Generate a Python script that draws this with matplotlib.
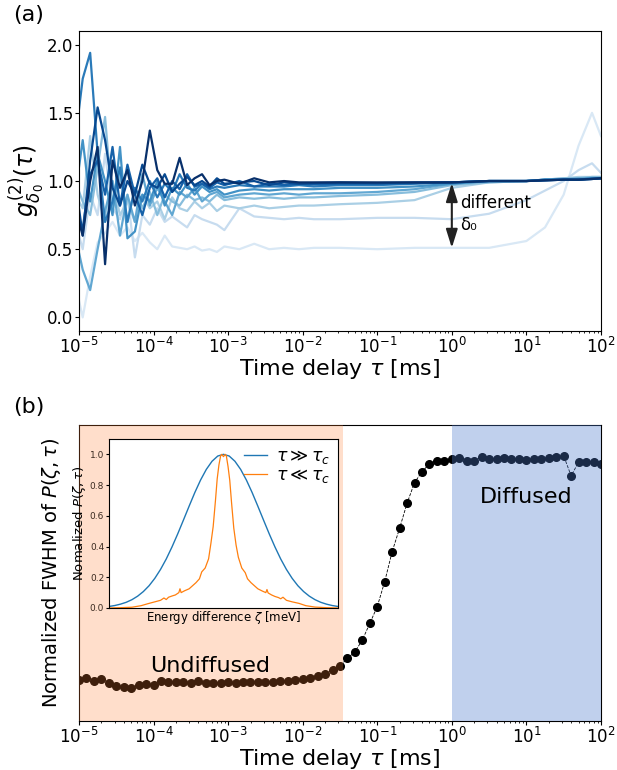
import numpy as np
import matplotlib.pyplot as plt
from matplotlib.ticker import NullFormatter

# ---- panel (a): g2 curves for different delta_0 (light -> dark) ----
log_tau_a = [-5.05, -4.95, -4.85, -4.75, -4.65, -4.55, -4.45, -4.35, -4.25, -4.15, -4.05,
             -3.95, -3.85, -3.75, -3.65, -3.55, -3.45, -3.35, -3.25, -3.15, -3.05,
             -2.85, -2.65, -2.45, -2.25, -2.05, -1.85,
             -1.5, -1.0, -0.5, 0.0, 0.5, 1.0, 1.25, 1.5, 1.7, 1.88, 2.0]

g2_0 = [0.25, 0.0, 0.3, 0.55, 0.62, 0.7, 0.6, 0.66, 0.56, 0.62, 0.55, 0.5, 0.6, 0.52, 0.51, 0.5, 0.52, 0.49, 0.5, 0.48, 0.52,
        0.5, 0.54, 0.5, 0.51, 0.5, 0.51,
        0.51, 0.5, 0.51, 0.51, 0.51, 0.56, 0.66, 0.9, 1.26, 1.5, 1.33]
g2_1 = [0.7, 0.5, 0.9, 0.75, 1.2, 0.8, 0.72, 0.9, 0.44, 0.75, 0.68, 0.8, 0.7, 0.74, 0.7, 0.66, 0.75, 0.72, 0.7, 0.68, 0.64,
        0.8, 0.74, 0.73, 0.72, 0.73, 0.72,
        0.72, 0.73, 0.73, 0.72, 0.76, 0.86, 0.93, 1.0, 1.08, 1.13, 1.06]
g2_2 = [0.9, 0.8, 1.33, 0.9, 0.7, 1.0, 0.75, 0.85, 0.7, 0.9, 0.8, 0.85, 0.72, 0.88, 0.8, 0.78, 0.85, 0.8, 0.84, 0.78, 0.82,
        0.8, 0.82, 0.8, 0.81, 0.82, 0.82,
        0.83, 0.84, 0.86, 0.95, 0.99, 1.0, 1.01, 1.02, 1.03, 1.03, 1.03]
g2_3 = [1.0, 0.85, 0.75, 1.1, 1.47, 0.8, 1.05, 0.7, 0.95, 0.8, 0.92, 0.75, 0.9, 0.85, 0.82, 0.9, 0.86, 0.88, 0.85, 0.9, 0.86,
        0.88, 0.87, 0.88, 0.87, 0.88, 0.88,
        0.89, 0.9, 0.92, 0.97, 0.99, 1.0, 1.01, 1.02, 1.02, 1.03, 1.03]
g2_4 = [0.6, 0.35, 0.2, 0.5, 0.78, 1.0, 0.6, 0.9, 0.7, 1.05, 0.82, 0.95, 0.85, 0.75, 0.92, 0.88, 0.95, 0.85, 0.9, 0.92, 0.88,
        0.9, 0.91, 0.9, 0.91, 0.9, 0.91,
        0.91, 0.92, 0.94, 0.98, 1.0, 1.0, 1.01, 1.01, 1.02, 1.02, 1.02]
g2_5 = [0.9, 1.3, 0.85, 1.2, 1.0, 0.75, 1.25, 0.58, 0.63, 0.9, 0.85, 1.0, 0.82, 0.95, 0.9, 0.98, 0.9, 0.96, 0.92, 0.94, 0.9,
        0.93, 0.94, 0.93, 0.94, 0.94, 0.94,
        0.95, 0.95, 0.96, 0.98, 1.0, 1.0, 1.01, 1.01, 1.01, 1.02, 1.02]
g2_6 = [1.3, 1.75, 1.94, 1.2, 0.7, 0.85, 1.1, 0.7, 0.95, 0.85, 1.0, 0.88, 0.98, 0.92, 1.05, 0.95, 0.93, 0.98, 0.94, 0.96, 0.95,
        0.97, 0.96, 0.96, 0.96, 0.97, 0.96,
        0.97, 0.97, 0.98, 0.99, 1.0, 1.0, 1.01, 1.01, 1.01, 1.02, 1.02]
g2_7 = [0.8, 0.65, 1.05, 1.15, 0.9, 1.25, 0.82, 1.12, 0.9, 0.75, 0.95, 1.02, 0.88, 1.0, 0.94, 1.05, 0.96, 0.98, 0.95, 0.99, 0.97,
        1.0, 0.96, 0.98, 0.97, 0.98, 0.975,
        0.98, 0.98, 0.985, 0.99, 1.0, 1.0, 1.005, 1.01, 1.01, 1.015, 1.02]
g2_8 = [1.0, 0.6, 1.15, 1.54, 1.3, 0.95, 0.82, 1.0, 0.9, 1.12, 0.98, 0.95, 1.05, 0.92, 0.98, 1.03, 0.97, 1.0, 0.96, 1.02, 0.98,
        0.99, 1.0, 0.97, 0.99, 0.98, 0.985,
        0.99, 0.985, 0.99, 0.99, 1.0, 1.0, 1.005, 1.01, 1.01, 1.015, 1.02]
g2_9 = [0.8, 0.6, 1.0, 1.25, 0.39, 1.15, 0.95, 1.08, 0.82, 1.0, 1.37, 1.08, 0.98, 0.98, 1.17, 0.97, 1.02, 1.05, 0.97, 1.0, 1.01,
        0.98, 1.02, 0.99, 1.0, 0.99, 0.99,
        0.99, 0.99, 0.99, 0.99, 1.0, 1.0, 1.005, 1.01, 1.01, 1.015, 1.02]
g2_curves = [g2_0, g2_1, g2_2, g2_3, g2_4, g2_5, g2_6, g2_7, g2_8, g2_9]

# ---- panel (b): normalized FWHM vs time delay ----
tau_b = np.logspace(-5, 2.1, 72)
fwhm = [0.156, 0.162, 0.152, 0.160, 0.146, 0.134, 0.128, 0.124, 0.136, 0.141, 0.137, 0.152, 0.148,
        0.148, 0.148, 0.146, 0.152, 0.144, 0.146, 0.146, 0.147, 0.146, 0.147, 0.147, 0.147, 0.148,
        0.149, 0.151, 0.152, 0.156, 0.160, 0.165, 0.172, 0.179, 0.194, 0.210,
        0.238, 0.263, 0.308, 0.371, 0.435, 0.530, 0.644, 0.733, 0.828, 0.906,
        0.948, 0.977, 0.989, 0.990, 0.997, 1.000, 0.989, 0.990, 1.003, 0.997,
        0.996, 1.000, 0.996, 0.996, 0.994, 0.996, 0.996, 1.000, 1.004, 1.008,
        0.932, 0.984, 0.985, 0.984, 0.977, 0.70]

# ---- inset: P(zeta, tau) ----
zeta_long = [-1.0, -0.95, -0.9, -0.85, -0.8, -0.75, -0.7, -0.65, -0.6, -0.55, -0.5, -0.45, -0.4, -0.35,
             -0.3, -0.25, -0.2, -0.15, -0.1, -0.05, 0.0, 0.05, 0.1, 0.15, 0.2, 0.25, 0.3, 0.35,
             0.4, 0.45, 0.5, 0.55, 0.6, 0.65, 0.7, 0.75, 0.8, 0.85, 0.9, 0.95, 1.0]
p_long = [0.010, 0.016, 0.025, 0.037, 0.054, 0.077, 0.107, 0.145, 0.193, 0.251, 0.319, 0.397, 0.482, 0.572,
          0.663, 0.752, 0.833, 0.902, 0.955, 0.989, 1.0, 0.989, 0.955, 0.902, 0.833, 0.752, 0.663, 0.572,
          0.482, 0.397, 0.319, 0.251, 0.193, 0.145, 0.107, 0.077, 0.054, 0.037, 0.025, 0.016, 0.010]
zeta_short = [-1.0, -0.9, -0.8, -0.72, -0.66, -0.6, -0.55, -0.52, -0.5, -0.48, -0.45, -0.42, -0.39, -0.38,
              -0.37, -0.34, -0.3, -0.27, -0.24, -0.21, -0.19, -0.16, -0.13, -0.11, -0.09, -0.07, -0.055,
              -0.04, -0.025, -0.015, 0.0, 0.015, 0.025, 0.04, 0.055, 0.07, 0.09, 0.11, 0.13, 0.16, 0.19,
              0.21, 0.24, 0.27, 0.3, 0.34, 0.37, 0.38, 0.39, 0.42, 0.45, 0.48, 0.5, 0.52, 0.55, 0.6,
              0.66, 0.72, 0.8, 0.9, 1.0]
p_short = [0.0, 0.002, 0.005, 0.015, 0.028, 0.04, 0.05, 0.065, 0.055, 0.07, 0.078, 0.085, 0.1, 0.125,
           0.1, 0.112, 0.125, 0.145, 0.165, 0.19, 0.235, 0.26, 0.32, 0.42, 0.53, 0.70, 0.84,
           0.93, 0.99, 1.0, 0.985, 1.0, 0.99, 0.92, 0.83, 0.69, 0.52, 0.41, 0.33, 0.26, 0.23,
           0.19, 0.165, 0.145, 0.125, 0.11, 0.1, 0.12, 0.098, 0.085, 0.075, 0.068, 0.06, 0.07, 0.05, 0.04,
           0.03, 0.015, 0.006, 0.002, 0.0]

undiff_end = 0.0346
diff_start = 1.0
decades = [1e-5, 1e-4, 1e-3, 1e-2, 1e-1, 1e0, 1e1, 1e2]

fig = plt.figure(figsize=(6.17, 7.70), dpi=100)

# ---------------- (a) ----------------
ax1 = fig.add_axes([0.128, 0.5701, 0.846, 0.3896])
tau_a = np.power(10.0, log_tau_a)
colors = plt.cm.Blues(np.linspace(0.15, 1.0, len(g2_curves)))
for g, c in zip(g2_curves, colors):
    ax1.plot(tau_a, g, color=c, lw=1.6)
ax1.set_xscale('log')
ax1.set_xticks(decades)
ax1.set_xlim(1e-5, 1e2)
ax1.set_ylim(-0.1, 2.1)
ax1.set_yticks([0.0, 0.5, 1.0, 1.5, 2.0])
ax1.xaxis.set_minor_formatter(NullFormatter())
ax1.set_xlabel(r'Time delay $\tau$ [ms]', fontsize=16, labelpad=0)
ax1.set_ylabel(r'$g^{(2)}_{\delta_0}(\tau)$', fontsize=17)
ax1.yaxis.set_label_coords(-0.063, 0.5)
ax1.tick_params(which='major', labelsize=12, length=3, pad=1)
ax1.tick_params(which='minor', length=1.5)
ax1.annotate('', xy=(1.0, 0.51), xytext=(1.0, 0.985),
             arrowprops=dict(arrowstyle='<|-|>,head_length=0.8,head_width=0.25',
                             mutation_scale=14, color='#222222', lw=1.5,
                             shrinkA=0, shrinkB=0))
ax1.text(1.28, 0.80, 'different', fontsize=12, va='baseline')
ax1.text(1.28, 0.64, 'δ₀', fontsize=12, va='baseline')

# ---------------- (b) ----------------
ax2 = fig.add_axes([0.128, 0.0636, 0.846, 0.3844])
ax2.plot(tau_b, fwhm, 'o', color='black', ms=5.5, zorder=2)
ax2.plot(tau_b, fwhm, '--', color='black', lw=0.6, zorder=2)
ax2.axvspan(1e-6, undiff_end, color='#ff7f33', alpha=0.25, lw=0, zorder=3)
ax2.axvspan(diff_start, 1e3, color='#4b79ce', alpha=0.35, lw=0, zorder=3)
ax2.set_xscale('log')
ax2.set_xticks(decades)
ax2.set_xlim(1e-5, 1e2)
ax2.set_ylim(0, 1.125)
ax2.set_yticks([])
ax2.xaxis.set_minor_formatter(NullFormatter())
ax2.tick_params(which='major', labelsize=12, length=3, pad=1)
ax2.tick_params(which='minor', length=1.5)
ax2.set_xlabel(r'Time delay $\tau$ [ms]', fontsize=16, labelpad=0)
ax2.set_ylabel(r'Normalized FWHM of $P(\zeta,\tau)$', fontsize=14)
ax2.yaxis.set_label_coords(-0.03, 0.5)
ax2.text(5.7e-4, 0.186, 'Undiffused', fontsize=16, ha='center', va='baseline', zorder=4)
ax2.text(10.0, 0.83, 'Diffused', fontsize=16, ha='center', va='baseline', zorder=4)

# inset
axi = fig.add_axes([0.1767, 0.2104, 0.371, 0.2195])
axi.plot(zeta_long, p_long, color='C0', lw=1.0, label=r'$\tau \gg \tau_c$')
axi.plot(zeta_short, p_short, color='C1', lw=0.9, label=r'$\tau \ll \tau_c$')
axi.set_xlim(-1, 1)
axi.set_ylim(0, 1.1)
axi.set_xticks([])
axi.set_yticks([0.0, 0.2, 0.4, 0.6, 0.8, 1.0])
axi.tick_params(labelsize=6.5, length=2, pad=1.5, labelcolor='#3a2a20')
axi.set_xlabel(r'Energy difference $\zeta$ [meV]', fontsize=8.5, labelpad=1)
axi.set_ylabel(r'Nomalized $P(\zeta,\tau)$', fontsize=9.5, labelpad=1)
axi.legend(loc='upper right', frameon=False, fontsize=12.5, handlelength=1.3,
           borderaxespad=0.05, labelspacing=0.0, handletextpad=0.5)

fig.text(0.021, 0.9935, '(a)', fontsize=16, va='top')
fig.text(0.021, 0.4844, '(b)', fontsize=16, va='top')

fig.savefig('out.png', dpi=100)
